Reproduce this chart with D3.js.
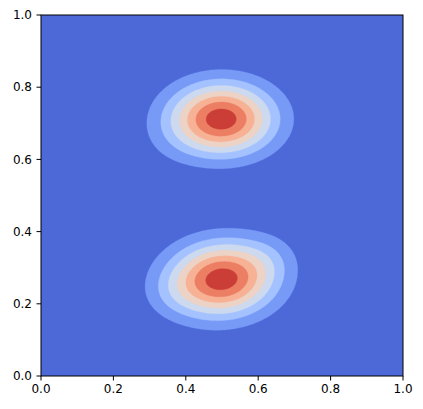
<!DOCTYPE html>
<html>
<head>
<meta charset="utf-8">
<script src="https://cdn.jsdelivr.net/npm/d3@7"></script>
<style>
  html, body { margin: 0; padding: 0; background: #ffffff; }
  svg { display: block; }
  text { font-family: "DejaVu Sans", sans-serif; }
</style>
</head>
<body>
<script>
// ---- data ----
const xTicks = [0.0, 0.2, 0.4, 0.6, 0.8, 1.0];
const yTicks = [0.0, 0.2, 0.4, 0.6, 0.8, 1.0];
const levels = [0.0, 0.1, 0.2, 0.3, 0.4, 0.5, 0.6, 0.7, 0.8];
// bumps of the field: two main peaks and weak shoulders that shape the outer rings
const peakX     = [0.499, 0.499, 0.360, 0.365, 0.630];
const peakY     = [0.712, 0.268, 0.650, 0.225, 0.330];
const peakSigX  = [0.099, 0.101, 0.070, 0.055, 0.055];
const peakSigY  = [0.068, 0.070, 0.060, 0.045, 0.045];
const peakRho   = [0.00, 0.06, 0.0, 0.0, 0.0];
const peakValue = [0.76, 0.76, 0.035, 0.05, 0.06];

// ---- layout ----
const W = 423, H = 409;
const L = 41, R = 403, T = 15, B = 376;

// coolwarm colormap (Moreland), 33 nodes
const coolwarmNodes = [
 [59,76,192],[68,90,204],[77,104,215],[87,117,225],[98,130,234],[108,142,241],[119,154,247],[130,165,251],
 [141,176,254],[152,185,255],[163,194,255],[174,201,253],[184,208,249],[194,213,244],[204,217,238],[213,219,230],
 [221,221,221],[229,216,209],[236,211,197],[241,204,185],[245,196,173],[247,187,160],[247,177,148],[247,166,135],
 [244,154,123],[241,141,111],[236,127,99],[229,112,88],[222,96,77],[213,80,66],[203,62,56],[192,40,47],[180,4,38]
];
function coolwarm(t) {
  const s = Math.max(0, Math.min(1, t)) * 32;
  const i = Math.min(31, Math.floor(s)), f = s - i;
  const a = coolwarmNodes[i], b = coolwarmNodes[i + 1];
  return d3.rgb(a[0] + (b[0]-a[0])*f, a[1] + (b[1]-a[1])*f, a[2] + (b[2]-a[2])*f).formatHex();
}
const nBands = levels.length - 1;
const bandColor = d3.range(nBands).map(i => coolwarm((i + 0.5) / nBands));

const x = d3.scaleLinear().domain([0, 1]).range([L, R]);
const y = d3.scaleLinear().domain([0, 1]).range([B, T]);

// ---- field on a grid ----
const n = 300;
function field(px, py) {
  let v = 0;
  for (let k = 0; k < peakX.length; k++) {
    const dx = (px - peakX[k]) / peakSigX[k];
    const dy = (py - peakY[k]) / peakSigY[k];
    const r = peakRho[k];
    const q = (dx*dx - 2*r*dx*dy + dy*dy) / (1 - r*r);
    v += peakValue[k] * Math.exp(-0.5 * q);
  }
  return v;
}
const values = new Float64Array(n * n);
for (let j = 0; j < n; j++) {
  const py = 1 - (j + 0.5) / n;
  for (let i = 0; i < n; i++) {
    values[i + j * n] = field((i + 0.5) / n, py);
  }
}

const svg = d3.select("body").append("svg").attr("width", W).attr("height", H);
svg.append("defs").append("clipPath").attr("id", "clip")
  .append("rect").attr("x", L).attr("y", T).attr("width", R - L).attr("height", B - T);

const g = svg.append("g").attr("clip-path", "url(#clip)");
g.append("rect").attr("x", L).attr("y", T).attr("width", R - L).attr("height", B - T)
  .attr("fill", bandColor[0]);

const contours = d3.contours().size([n, n]).thresholds(levels.slice(1, -1))(values);
const proj = d3.geoTransform({
  point: function(gx, gy) { this.stream.point(x(gx / n), y(1 - gy / n)); }
});
const path = d3.geoPath(proj);
g.selectAll("path.band").data(contours).join("path")
  .attr("class", "band")
  .attr("d", path)
  .attr("fill", (d, i) => bandColor[i + 1])
  .attr("stroke", (d, i) => bandColor[i + 1])
  .attr("stroke-width", 0.3);

// ---- axes ----
const fs = 12;
const xAxis = svg.append("g");
xTicks.forEach(t => {
  xAxis.append("line").attr("x1", x(t)).attr("x2", x(t)).attr("y1", B).attr("y2", B + 4.5)
    .attr("stroke", "#000").attr("stroke-width", 1);
  xAxis.append("text").attr("x", x(t)).attr("y", B + 17).attr("text-anchor", "middle")
    .attr("font-size", fs).attr("fill", "#000").text(d3.format(".1f")(t));
});
const yAxis = svg.append("g");
yTicks.forEach(t => {
  yAxis.append("line").attr("x1", L - 4.5).attr("x2", L).attr("y1", y(t)).attr("y2", y(t))
    .attr("stroke", "#000").attr("stroke-width", 1);
  yAxis.append("text").attr("x", L - 9).attr("y", y(t)).attr("dy", "0.35em").attr("text-anchor", "end")
    .attr("font-size", fs).attr("fill", "#000").text(d3.format(".1f")(t));
});
svg.append("rect").attr("x", L).attr("y", T).attr("width", R - L).attr("height", B - T)
  .attr("fill", "none").attr("stroke", "#000").attr("stroke-width", 1);
</script>
</body>
</html>
